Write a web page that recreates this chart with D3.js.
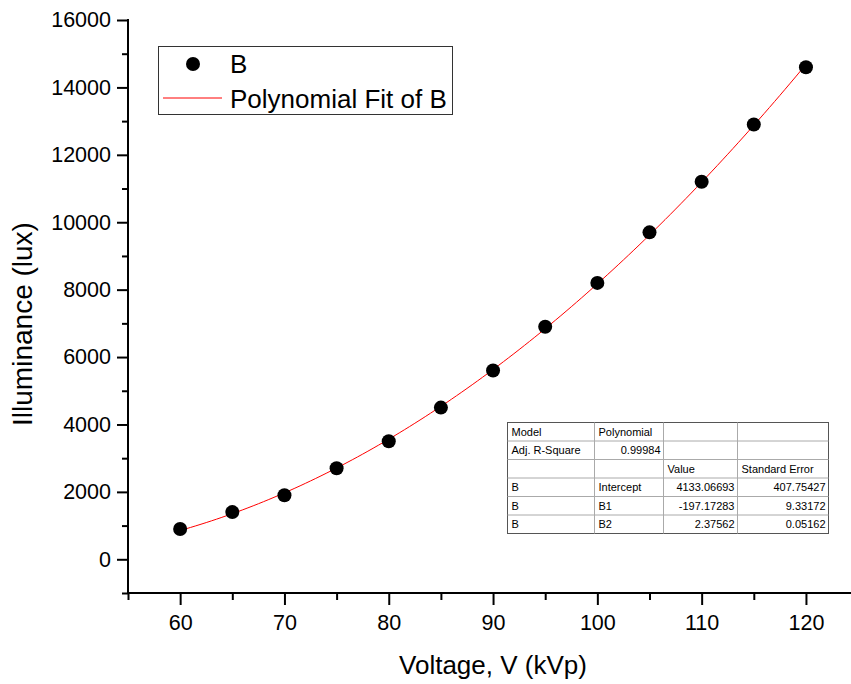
<!DOCTYPE html>
<html>
<head>
<meta charset="utf-8">
<script src="https://cdn.jsdelivr.net/npm/d3@7/dist/d3.min.js"></script>
<style>
  html, body { margin: 0; padding: 0; background: #fff; }
  svg { display: block; font-family: "Liberation Sans", Arial, sans-serif; }
</style>
</head>
<body>
<svg id="chart" width="851" height="684"></svg>
<script>
// Measured illuminance versus tube voltage
const voltage = [60, 65, 70, 75, 80, 85, 90, 95, 100, 105, 110, 115, 120];
const illuminance = [900, 1400, 1900, 2700, 3500, 4500, 5600, 6900, 8200, 9700, 11200, 12900, 14600];

// Quadratic fit coefficients (Intercept, B1, B2) and their standard errors
const fitCoef = [4133.06693, -197.17283, 2.37562];
const fitCoefLabels = ["4133.06693", "-197.17283", "2.37562"];
const fitErrLabels = ["407.75427", "9.33172", "0.05162"];
const fitTerms = ["Intercept", "B1", "B2"];
const adjR2 = "0.99984";

const xMajorTicks = [60, 70, 80, 90, 100, 110, 120];
const xMinorTicks = [55, 65, 75, 85, 95, 105, 115, 125];
const yMajorTicks = [0, 2000, 4000, 6000, 8000, 10000, 12000, 14000, 16000];
const yMinorTicks = [-1000, 1000, 3000, 5000, 7000, 9000, 11000, 13000, 15000];

const svg = d3.select("#chart");
const FONT = "'Liberation Sans', Arial, sans-serif";

const plotLeft = 128, plotBottom = 593, plotTop = 20;
const x = d3.scaleLinear().domain([55, 125]).range([plotLeft, plotLeft + 70 * 10.43]);
const y = d3.scaleLinear().domain([-1000, 16000]).range([plotBottom, plotTop]);

// Axes
const xMin = svg.append("g").attr("transform", `translate(0,${plotBottom})`)
  .call(d3.axisBottom(x).tickValues(xMinorTicks).tickSize(7).tickFormat(""));
xMin.select(".domain").remove();
const xMaj = svg.append("g").attr("transform", `translate(0,${plotBottom})`)
  .call(d3.axisBottom(x).tickValues(xMajorTicks).tickSize(12).tickPadding(10).tickFormat(d3.format("d")));
xMaj.selectAll("text").attr("font-size", 21.5).attr("fill", "#000").attr("font-family", FONT);
xMaj.select(".domain").remove();
svg.append("line").attr("x1", plotLeft - 1).attr("x2", 851).attr("y1", plotBottom).attr("y2", plotBottom)
  .attr("stroke", "#000").attr("stroke-width", 2);

const yMin = svg.append("g").attr("transform", `translate(${plotLeft},0)`)
  .call(d3.axisLeft(y).tickValues(yMinorTicks).tickSize(6).tickFormat(""));
yMin.select(".domain").remove();
const yMaj = svg.append("g").attr("transform", `translate(${plotLeft},0)`)
  .call(d3.axisLeft(y).tickValues(yMajorTicks).tickSize(11).tickPadding(6).tickFormat(d3.format("d")));
yMaj.select(".domain").remove();
yMaj.selectAll("text").attr("font-size", 21.5).attr("fill", "#000").attr("font-family", FONT);
svg.selectAll(".tick line").attr("stroke-width", 2);
svg.append("line").attr("x1", plotLeft).attr("x2", plotLeft).attr("y1", y(16000) - 1).attr("y2", plotBottom + 1)
  .attr("stroke", "#000").attr("stroke-width", 2);

// Axis titles
svg.append("text").attr("x", 493).attr("y", 674).attr("text-anchor", "middle")
  .attr("font-size", 26).text("Voltage, V (kVp)");
svg.append("text").attr("transform", `translate(32,324) rotate(-90)`).attr("text-anchor", "middle")
  .attr("font-size", 28).text("Illuminance (lux)");

// Fit curve
const fitX = d3.range(60, 120.01, 0.5);
const poly = v => fitCoef[0] + fitCoef[1] * v + fitCoef[2] * v * v;
svg.append("path").datum(fitX)
  .attr("d", d3.line().x(d => x(d)).y(d => y(poly(d))))
  .attr("fill", "none").attr("stroke", "#ff0000").attr("stroke-width", 1);

// Data points
svg.append("g").selectAll("circle").data(voltage).join("circle")
  .attr("cx", d => x(d)).attr("cy", (d, i) => y(illuminance[i])).attr("r", 7).attr("fill", "#000");

// Legend
const lg = svg.append("g");
lg.append("rect").attr("x", 158.5).attr("y", 46.5).attr("width", 294).attr("height", 68)
  .attr("fill", "#fff").attr("stroke", "#333").attr("stroke-width", 1);
lg.append("circle").attr("cx", 193).attr("cy", 64).attr("r", 7).attr("fill", "#000");
lg.append("text").attr("x", 230).attr("y", 73).attr("font-size", 26).text("B");
lg.append("line").attr("x1", 163).attr("x2", 222).attr("y1", 98).attr("y2", 98)
  .attr("stroke", "#ff0000").attr("stroke-width", 1);
lg.append("text").attr("x", 230).attr("y", 108).attr("font-size", 26).text("Polynomial Fit of B");

// Fit results table
const colX = [507.5, 594.5, 663.5, 737.5, 828.5];
const rowTop = 422.5, rowH = 18.5;
const rows = [
  [{t: "Model", a: "l"}, {t: "Polynomial", a: "l"}, {t: "", a: "l"}, {t: "", a: "l"}],
  [{t: "Adj. R-Square", a: "l"}, {t: adjR2, a: "r"}, {t: "", a: "l"}, {t: "", a: "l"}],
  [{t: "", a: "l"}, {t: "", a: "l"}, {t: "Value", a: "l"}, {t: "Standard Error", a: "l"}]
].concat(fitTerms.map((term, i) => [
  {t: "B", a: "l"}, {t: term, a: "l"}, {t: fitCoefLabels[i], a: "r"}, {t: fitErrLabels[i], a: "r"}
]));
const tb = svg.append("g");
tb.append("rect").attr("x", colX[0]).attr("y", rowTop).attr("width", colX[4] - colX[0])
  .attr("height", rowH * rows.length).attr("fill", "#fff").attr("stroke", "#555").attr("stroke-width", 1);
for (let r = 1; r < rows.length; r++) {
  tb.append("line").attr("x1", colX[0]).attr("x2", colX[4])
    .attr("y1", rowTop + r * rowH).attr("y2", rowTop + r * rowH).attr("stroke", "#aaa").attr("stroke-width", 1);
}
for (let c = 1; c < 4; c++) {
  tb.append("line").attr("x1", colX[c]).attr("x2", colX[c])
    .attr("y1", rowTop).attr("y2", rowTop + rowH * rows.length).attr("stroke", "#aaa").attr("stroke-width", 1);
}
rows.forEach((row, r) => {
  row.forEach((cell, c) => {
    if (!cell.t) return;
    tb.append("text")
      .attr("x", cell.a === "l" ? colX[c] + 4 : colX[c + 1] - 3)
      .attr("y", rowTop + r * rowH + 13)
      .attr("text-anchor", cell.a === "l" ? "start" : "end")
      .attr("font-size", 11).attr("fill", "#000").text(cell.t);
  });
});
</script>
</body>
</html>
